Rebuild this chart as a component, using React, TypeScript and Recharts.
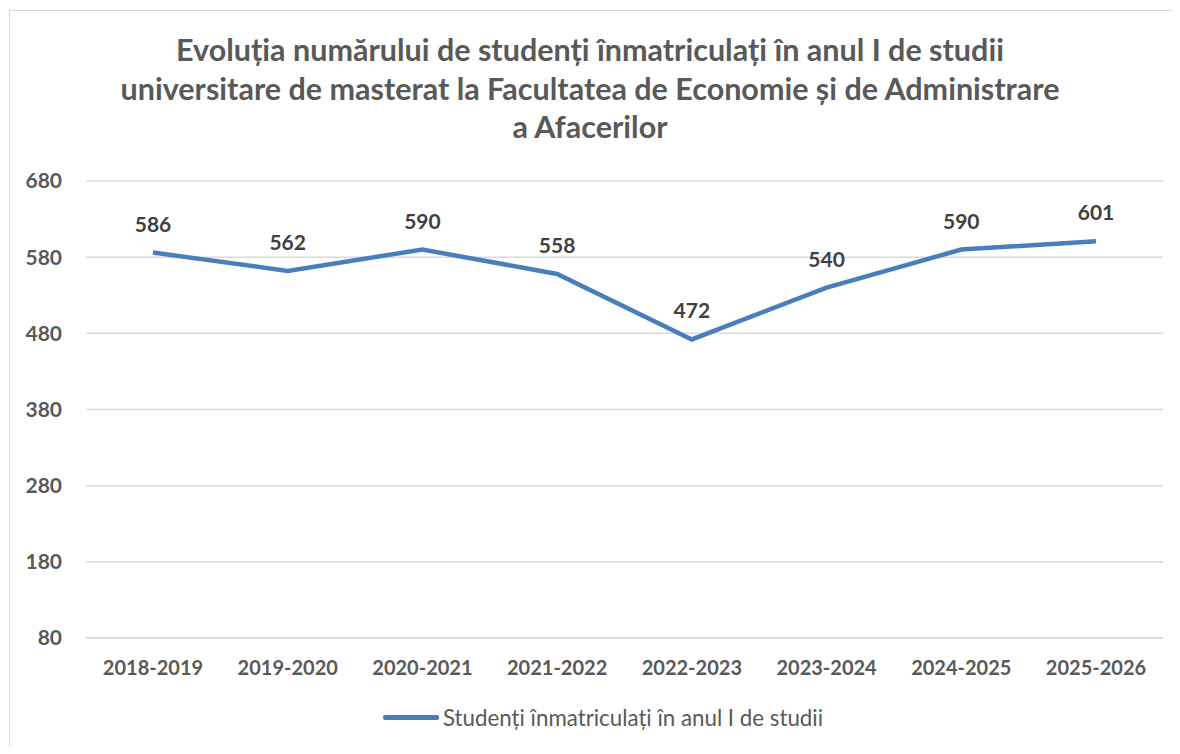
import React from "react";
import { LineChart, Line, XAxis, YAxis, CartesianGrid, LabelList } from "recharts";

const years = [
  "2018-2019",
  "2019-2020",
  "2020-2021",
  "2021-2022",
  "2022-2023",
  "2023-2024",
  "2024-2025",
  "2025-2026",
];
const students = [586, 562, 590, 558, 472, 540, 590, 601];
const yTicks = [80, 180, 280, 380, 480, 580, 680];

const seriesName = "Studenți înmatriculați în anul I de studii";
const titleLines = [
  "Evoluția numărului de studenți înmatriculați în anul I de studii",
  "universitare de masterat la Facultatea de Economie și de Administrare",
  "a Afacerilor",
];

const data = years.map((y, i) => ({ name: y, value: students[i] }));

const font = "Lato, 'Open Sans', sans-serif";

const App = () => {
  return (
    <div style={{ position: "relative", width: 1180, height: 754, margin: -8, fontFamily: font, background: "#fff", overflow: "hidden" }}>
      <div
        style={{
          position: "absolute",
          left: 9,
          top: 10,
          width: 1180,
          height: 754,
          border: "1px solid #d9d9d9",
        }}
      />
      <div
        style={{
          position: "absolute",
          left: 0,
          top: 30,
          width: 1180,
          textAlign: "center",
          fontWeight: 700,
          fontSize: 30.5,
          lineHeight: "38.5px",
          color: "#595959",
        }}
      >
        {titleLines.map((t) => (
          <div key={t}>{t}</div>
        ))}
      </div>
      <div style={{ position: "absolute", left: 0, top: 0 }}>
        <LineChart
          width={1180}
          height={754}
          data={data}
          margin={{ top: 181, right: 17, left: 16, bottom: 76 }}
        >
          <CartesianGrid vertical={false} stroke="#d9d9d9" strokeWidth={1.5} />
          <XAxis
            dataKey="name"
            padding={{ left: 67, right: 67 }}
            axisLine={{ stroke: "#d9d9d9", strokeWidth: 1.5 }}
            tickLine={false}
            tickMargin={17}
            height={40}
            interval={0}
            tick={{ fill: "#595959", fontSize: 20, fontWeight: 700, fontFamily: font }}
          />
          <YAxis
            width={70}
            domain={[80, 680]}
            ticks={yTicks}
            axisLine={false}
            tickLine={false}
            tickMargin={18}
            tick={{ fill: "#595959", fontSize: 21, fontWeight: 700, fontFamily: font }}
          />
          <Line
            type="linear"
            dataKey="value"
            name={seriesName}
            stroke="#4a7ebb"
            strokeWidth={4.5}
            dot={false}
            activeDot={false}
            isAnimationActive={false}
          >
            <LabelList
              dataKey="value"
              position="top"
              offset={21}
              fill="#404040"
              fontSize={21}
              fontWeight={700}
              fontFamily={font}
            />
          </Line>
        </LineChart>
      </div>
      <div
        style={{
          position: "absolute",
          left: 383,
          top: 704,
          display: "flex",
          alignItems: "center",
          color: "#595959",
          fontSize: 22.3,
        }}
      >
        <div style={{ width: 56, height: 4.5, background: "#4a7ebb", borderRadius: 2, marginRight: 4 }} />
        <span>{seriesName}</span>
      </div>
    </div>
  );
};

export default App;
